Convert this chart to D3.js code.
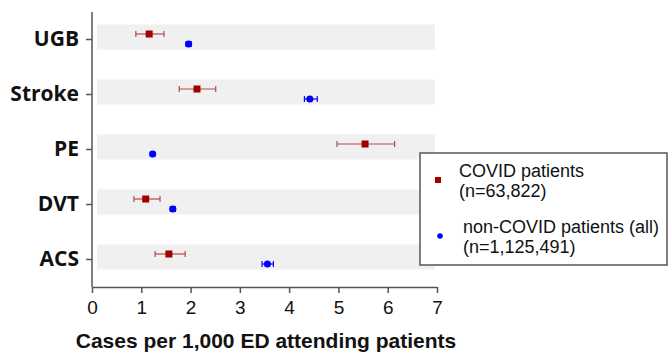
<!DOCTYPE html>
<html>
<head>
<meta charset="utf-8">
<script src="https://cdn.jsdelivr.net/npm/d3@7"></script>
<style>
  body { margin: 0; background: #fff; }
  svg { display: block; }
</style>
</head>
<body>
<div id="container"></div>
<script>
// data
let categories = ['UGB', 'Stroke', 'PE', 'DVT', 'ACS']

let covidRate = [1.16, 2.13, 5.54, 1.09, 1.56]
let covidLow = [0.89, 1.77, 4.97, 0.85, 1.28]
let covidHigh = [1.46, 2.51, 6.14, 1.38, 1.89]

let nonCovidRate = [1.96, 4.42, 1.23, 1.64, 3.56]
let nonCovidLow = [1.91, 4.31, 1.19, 1.59, 3.45]
let nonCovidHigh = [2.01, 4.57, 1.27, 1.69, 3.68]

let xTicks = [0, 1, 2, 3, 4, 5, 6, 7]
let legendLabels = [
  ['COVID patients', '(n=63,822)'],
  ['non-COVID patients (all)', '(n=1,125,491)']
]

let width = 670,
  height = 354

let svg = d3.select('#container')
  .append('svg')
  .attr('width', width)
  .attr('height', height)

let x = d3.scaleLinear().domain([0, 7]).range([92, 437])
let y = d3.scalePoint().domain(categories).range([39, 259])

let red = '#a00000', redLine = '#b34a4a', blue = '#0000ff'
let font = 'Liberation Sans, Arial, sans-serif'

// grey bands behind each row
svg.selectAll('rect.band')
  .data(categories)
  .join('rect')
  .attr('class', 'band')
  .attr('x', 97)
  .attr('y', d => y(d) - 14.5)
  .attr('width', 338)
  .attr('height', 25)
  .attr('fill', '#f0f0f0')

// y axis
let yAxis = svg.append('g')
  .attr('transform', 'translate(92,0)')
  .call(d3.axisLeft(y).tickSize(6).tickPadding(7))
yAxis.select('.domain').remove()
yAxis.append('line').attr('x1', 0).attr('x2', 0).attr('y1', 12).attr('y2', 287)
  .attr('stroke', '#555').attr('stroke-width', 1.5)
yAxis.selectAll('.tick line').attr('stroke', '#555').attr('stroke-width', 1.5)
yAxis.selectAll('.tick text')
  .attr('font-family', 'Open Sans, sans-serif')
  .attr('font-weight', 'bold')
  .attr('font-size', 21)
  .attr('fill', '#111')

// x axis
let xAxis = svg.append('g')
  .attr('transform', 'translate(0,287)')
  .call(d3.axisBottom(x).tickValues(xTicks).tickFormat(d3.format('d'))
    .tickSize(6).tickPadding(8).tickSizeOuter(0))
xAxis.select('.domain').attr('stroke', '#555').attr('stroke-width', 1.5)
xAxis.selectAll('.tick line').attr('stroke', '#555').attr('stroke-width', 1.5)
xAxis.selectAll('.tick text')
  .attr('font-family', font)
  .attr('font-size', 19)
  .attr('fill', '#111')

svg.append('text')
  .attr('x', 266)
  .attr('y', 348)
  .attr('text-anchor', 'middle')
  .attr('font-family', font)
  .attr('font-weight', 'bold')
  .attr('font-size', 21)
  .attr('fill', '#111')
  .text('Cases per 1,000 ED attending patients')

// error bars + markers
function drawSeries(rate, low, high, dy, color, lineColor, shape) {
  let rows = categories.map((c, i) => ({ c, v: rate[i], lo: low[i], hi: high[i] }))
  let g = svg.append('g')
  let lines = g.selectAll('g.err').data(rows).join('g').attr('class', 'err')
    .attr('stroke', lineColor).attr('stroke-width', 1.2)
  lines.append('line')
    .attr('x1', d => x(d.lo)).attr('x2', d => x(d.hi))
    .attr('y1', d => y(d.c) + dy).attr('y2', d => y(d.c) + dy)
  lines.append('line')
    .attr('x1', d => x(d.lo)).attr('x2', d => x(d.lo))
    .attr('y1', d => y(d.c) + dy - 3).attr('y2', d => y(d.c) + dy + 3)
  lines.append('line')
    .attr('x1', d => x(d.hi)).attr('x2', d => x(d.hi))
    .attr('y1', d => y(d.c) + dy - 3).attr('y2', d => y(d.c) + dy + 3)
  if (shape === 'square') {
    g.selectAll('rect.pt').data(rows).join('rect').attr('class', 'pt')
      .attr('x', d => x(d.v) - 3.5).attr('y', d => y(d.c) + dy - 3.5)
      .attr('width', 7).attr('height', 7).attr('fill', color)
  } else {
    g.selectAll('circle.pt').data(rows).join('circle').attr('class', 'pt')
      .attr('cx', d => x(d.v)).attr('cy', d => y(d.c) + dy)
      .attr('r', 3.6).attr('fill', color)
  }
}

drawSeries(covidRate, covidLow, covidHigh, -5, red, redLine, 'square')
drawSeries(nonCovidRate, nonCovidLow, nonCovidHigh, 5, blue, blue, 'circle')

// legend
let legend = svg.append('g')
legend.append('rect')
  .attr('x', 420).attr('y', 153).attr('width', 247).attr('height', 112)
  .attr('fill', '#fff').attr('stroke', '#555').attr('stroke-width', 1.5)
legend.append('rect')
  .attr('x', 435).attr('y', 177).attr('width', 6).attr('height', 6).attr('fill', red)
legend.append('circle')
  .attr('cx', 440).attr('cy', 236).attr('r', 2.8).attr('fill', blue)

let legendX = [459, 463], legendY = [177, 233]
legendLabels.forEach((lines, i) => {
  lines.forEach((t, j) => {
    legend.append('text')
      .attr('x', legendX[i])
      .attr('y', legendY[i] + j * 20)
      .attr('font-family', font)
      .attr('font-size', 18)
      .attr('fill', '#111')
      .text(t)
  })
})
</script>
</body>
</html>
